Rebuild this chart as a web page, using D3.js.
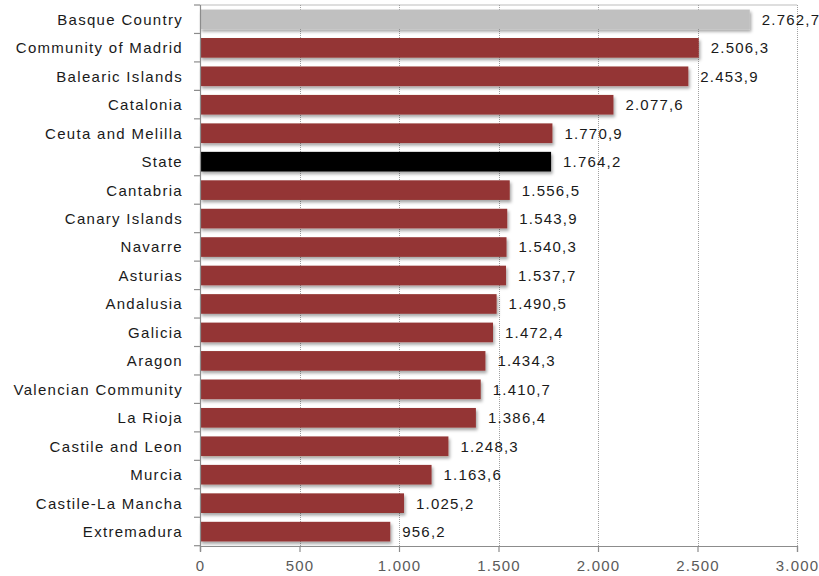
<!DOCTYPE html>
<html>
<head>
<meta charset="utf-8">
<script src="https://cdn.jsdelivr.net/npm/d3@7"></script>
<style>
  html, body { margin: 0; padding: 0; background: #fff; }
  svg text { font-family: "Liberation Sans", Arial, sans-serif; }
</style>
</head>
<body>
<svg id="chart" width="819" height="576"></svg>
<script>
// Regions, in display order (top to bottom)
const regions = [
  "Basque Country", "Community of Madrid", "Balearic Islands", "Catalonia",
  "Ceuta and Melilla", "State", "Cantabria", "Canary Islands", "Navarre",
  "Asturias", "Andalusia", "Galicia", "Aragon", "Valencian Community",
  "La Rioja", "Castile and Leon", "Murcia", "Castile-La Mancha", "Extremadura"
];
const values = [
  2762.7, 2506.3, 2453.9, 2077.6, 1770.9, 1764.2, 1556.5, 1543.9, 1540.3,
  1537.7, 1490.5, 1472.4, 1434.3, 1410.7, 1386.4, 1248.3, 1163.6, 1025.2, 956.2
];
const xTicks = [0, 500, 1000, 1500, 2000, 2500, 3000];

const colorDefault = "#943634";
const colorHighlight = { "Basque Country": "#c0c0c0", "State": "#000000" };

const svg = d3.select("#chart");
const margin = { left: 200, top: 5, right: 22, bottom: 30 };
const W = 819, H = 576;
const innerW = W - margin.left - margin.right; // ~597
const innerH = H - margin.top - margin.bottom;

// number format: "." thousands, "," decimal
const loc = d3.formatLocale({ decimal: ",", thousands: ".", grouping: [3], currency: ["", ""] });
const fmtVal = loc.format(",.1f");
const fmtTick = loc.format(",.0f");

const x = d3.scaleLinear().domain([0, 3000]).range([0, innerW]);
const y = d3.scaleBand().domain(regions).range([0, innerH]).paddingInner(0.31).paddingOuter(0.16);

const defs = svg.append("defs");
const f = defs.append("filter").attr("id", "shadow").attr("x", "-5%").attr("y", "-40%").attr("width", "115%").attr("height", "190%");
f.append("feDropShadow").attr("dx", 1.5).attr("dy", 2.5).attr("stdDeviation", 1.6)
  .attr("flood-color", "#000").attr("flood-opacity", 0.35);

const g = svg.append("g").attr("transform", `translate(${margin.left},${margin.top})`);

// top frame line
g.append("line").attr("x1", 0).attr("x2", x(3000)).attr("y1", 0).attr("y2", 0)
  .attr("stroke", "#bdbdbd").attr("stroke-width", 1.2);

// dotted vertical grid
g.append("g").selectAll("line").data(xTicks.slice(1)).join("line")
  .attr("x1", d => Math.round(x(d)) + 0.5).attr("x2", d => Math.round(x(d)) + 0.5)
  .attr("y1", 0).attr("y2", innerH)
  .attr("stroke", "#a0a0a0").attr("stroke-width", 1).attr("stroke-dasharray", "1,1");

// bars
const bandStep = y.step();
g.append("g").selectAll("rect").data(regions).join("rect")
  .attr("x", 0)
  .attr("y", d => y(d))
  .attr("width", (d, i) => x(values[i]))
  .attr("height", y.bandwidth())
  .attr("fill", d => colorHighlight[d] || colorDefault)
  .attr("filter", "url(#shadow)");

// value labels
g.append("g").selectAll("text").data(regions).join("text")
  .attr("x", (d, i) => x(values[i]) + 12)
  .attr("y", d => y(d) + y.bandwidth() / 2)
  .attr("dy", "0.36em")
  .attr("font-size", 15)
  .attr("letter-spacing", 1.2)
  .attr("fill", "#1a1a1a")
  .text((d, i) => fmtVal(values[i]));

// left axis (band boundaries ticks)
const yAxisG = g.append("g");
yAxisG.append("line").attr("x1", 0.5).attr("x2", 0.5).attr("y1", 0).attr("y2", innerH + 5)
  .attr("stroke", "#8c8c8c").attr("stroke-width", 1.2);
yAxisG.selectAll("line.tk").data(d3.range(regions.length + 1)).join("line")
  .attr("class", "tk")
  .attr("x1", -6).attr("x2", 0)
  .attr("y1", i => i * bandStep).attr("y2", i => i * bandStep)
  .attr("stroke", "#8c8c8c").attr("stroke-width", 1.2);
yAxisG.selectAll("text").data(regions).join("text")
  .attr("x", -17)
  .attr("y", d => y(d) + y.bandwidth() / 2)
  .attr("dy", "0.36em")
  .attr("text-anchor", "end")
  .attr("font-size", 15)
  .attr("letter-spacing", 1.3)
  .attr("fill", "#1a1a1a")
  .text(d => d);

// bottom axis
const xAxis = d3.axisBottom(x).tickValues(xTicks).tickFormat(fmtTick).tickSize(6).tickPadding(8);
const xg = g.append("g").attr("transform", `translate(0,${innerH})`).call(xAxis);
xg.select(".domain").attr("stroke", "#8c8c8c").attr("stroke-width", 1.2);
xg.selectAll(".tick line").attr("stroke", "#8c8c8c").attr("stroke-width", 1.2);
xg.selectAll(".tick text").attr("font-size", 15).attr("letter-spacing", 1.2)
  .attr("fill", "#5a5a5a").attr("font-family", "Liberation Sans, Arial, sans-serif");
</script>
</body>
</html>
